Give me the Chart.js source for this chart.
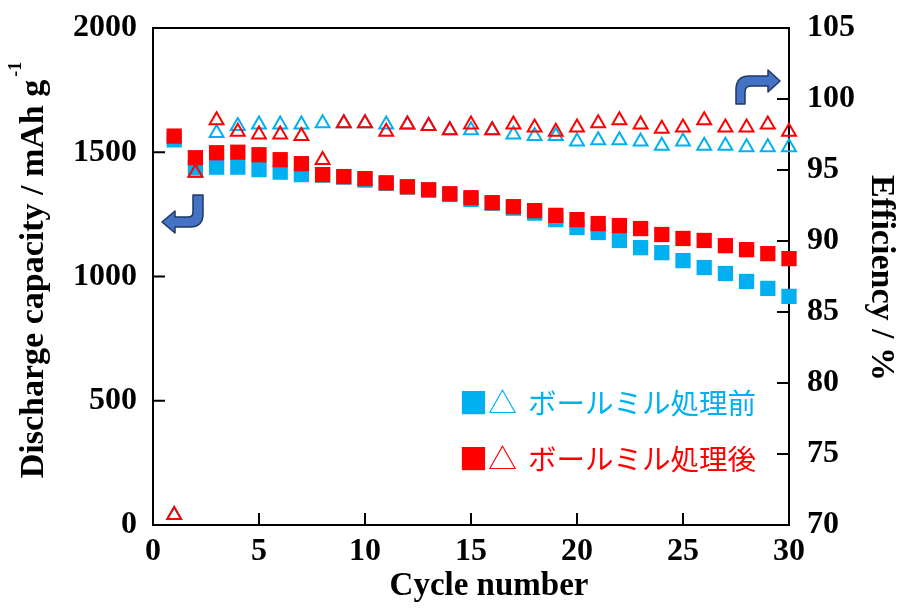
<!DOCTYPE html>
<html lang="ja">
<head>
<meta charset="UTF-8">
<title>Cycle performance</title>
<script src="https://cdn.jsdelivr.net/npm/chart.js@4.4.0/dist/chart.umd.min.js"></script>
<style>
    body { margin: 0; background: #fff; }
    #wrap { width: 897px; height: 612px; }
</style>
</head>
<body>
<div id="wrap"><canvas id="cycleChart" width="897" height="612"></canvas></div>
<script>
// data
const cycles = [1, 2, 3, 4, 5, 6, 7, 8, 9, 10, 11, 12, 13, 14, 15,
                16, 17, 18, 19, 20, 21, 22, 23, 24, 25, 26, 27, 28, 29, 30];
const capBefore = [1550, 1438, 1440, 1440, 1430, 1420, 1410, 1408, 1400, 1388,
                   1375, 1360, 1348, 1330, 1310, 1295, 1275, 1255, 1229, 1197,
                   1177, 1145, 1116, 1096, 1064, 1036, 1012, 980, 952, 920];
const capAfter = [1565, 1478, 1498, 1500, 1490, 1470, 1454, 1410, 1402, 1394,
                  1377, 1361, 1349, 1333, 1317, 1297, 1281, 1265, 1246, 1229,
                  1213, 1205, 1193, 1169, 1153, 1145, 1124, 1108, 1092, 1072];
const effBefore = [70.7, 94.8, 97.6, 98.1, 98.2, 98.2, 98.2, 98.3, 98.3, 98.3,
                   98.2, 98.2, 98.1, 97.8, 97.8, 97.8, 97.5, 97.4, 97.4, 97.0,
                   97.1, 97.1, 97.0, 96.7, 97.0, 96.7, 96.7, 96.6, 96.6, 96.6];
const effAfter = [70.7, 94.8, 98.5, 97.7, 97.5, 97.5, 97.4, 95.7, 98.3, 98.3,
                  97.7, 98.2, 98.1, 97.8, 98.2, 97.8, 98.2, 98.0, 97.7, 98.0,
                  98.3, 98.5, 98.2, 97.9, 98.0, 98.5, 98.0, 98.0, 98.2, 97.7];
const capTicks = [0, 500, 1000, 1500, 2000];
const effTicks = [70, 75, 80, 85, 90, 95, 100, 105];
const cycleTicks = [0, 5, 10, 15, 20, 25, 30];
const legendLabels = ['ボールミル処理前', 'ボールミル処理後'];

const BLUE = '#00B0F0';
const RED = '#FF0000';
const tickFont = { family: '"Liberation Serif", "Times New Roman", serif', size: 32, weight: 'bold' };
const titleFont = 'bold 33px "Liberation Serif", "Times New Roman", serif';
const sideTitleFont = 'bold 34px "Liberation Serif", "Times New Roman", serif';

function pts(ys) {
    return cycles.map((c, i) => ({ x: c, y: ys[i] }));
}

// frame, inward ticks, titles, legend and the two arrows
const decorations = {
    id: 'decorations',
    beforeDatasetsDraw(chart) {
        const { ctx, chartArea: a, scales } = chart;
        ctx.save();
        ctx.strokeStyle = '#000';
        ctx.lineWidth = 2;
        ctx.strokeRect(a.left, a.top, a.right - a.left, a.bottom - a.top);
        ctx.beginPath();
        cycleTicks.forEach(v => {
            const x = scales.x.getPixelForValue(v);
            ctx.moveTo(x, a.bottom); ctx.lineTo(x, a.bottom - 12);
        });
        capTicks.forEach(v => {
            const y = scales.y.getPixelForValue(v);
            ctx.moveTo(a.left, y); ctx.lineTo(a.left + 12, y);
        });
        effTicks.forEach(v => {
            const y = scales.y1.getPixelForValue(v);
            ctx.moveTo(a.right, y); ctx.lineTo(a.right - 12, y);
        });
        ctx.stroke();
        ctx.restore();
    },
    afterDraw(chart) {
        const ctx = chart.ctx;
        ctx.save();
        ctx.fillStyle = '#000';

        // x title
        ctx.font = titleFont;
        ctx.textAlign = 'center';
        ctx.textBaseline = 'alphabetic';
        ctx.fillText('Cycle number', 489, 595);

        // left title with superscript
        ctx.save();
        ctx.translate(43, 270);
        ctx.rotate(-Math.PI / 2);
        ctx.textAlign = 'left';
        const main = 'Discharge capacity / mAh g';
        ctx.font = sideTitleFont;
        const w1 = ctx.measureText(main).width;
        ctx.font = 'bold 18px "Liberation Serif", serif';
        const w2 = ctx.measureText('-1').width + 3;
        const start = -(w1 + w2) / 2;
        ctx.font = sideTitleFont;
        ctx.fillText(main, start, 0);
        ctx.font = 'bold 18px "Liberation Serif", serif';
        ctx.fillText('-1', start + w1 + 3, -22);
        ctx.restore();

        // right title
        ctx.save();
        ctx.translate(872, 278);
        ctx.rotate(Math.PI / 2);
        ctx.font = sideTitleFont;
        ctx.textAlign = 'center';
        ctx.fillText('Efficiency / %', 0, 0);
        ctx.restore();

        // legend
        ctx.textAlign = 'left';
        ctx.textBaseline = 'middle';
        [[BLUE, 403, legendLabels[0]], [RED, 459, legendLabels[1]]].forEach(([c, y, t]) => {
            ctx.fillStyle = c;
            ctx.font = '29px "Noto Sans CJK JP", sans-serif';
            ctx.fillText('■△', 459, y);
            ctx.font = '28.5px "Noto Sans CJK JP", sans-serif';
            ctx.fillText(t, 528, y);
        });

        // arrows
        ctx.fillStyle = '#4472C4';
        ctx.strokeStyle = '#1F3864';
        ctx.lineWidth = 1.5;
        ctx.lineJoin = 'round';
        ctx.beginPath();
        ctx.moveTo(193, 195); ctx.lineTo(203, 195); ctx.lineTo(203, 214);
        ctx.quadraticCurveTo(203, 227, 190, 227);
        ctx.lineTo(175, 227); ctx.lineTo(175, 233); ctx.lineTo(162, 222);
        ctx.lineTo(175, 211); ctx.lineTo(175, 217); ctx.lineTo(188, 217);
        ctx.quadraticCurveTo(193, 217, 193, 212);
        ctx.closePath();
        ctx.fill(); ctx.stroke();

        ctx.beginPath();
        ctx.moveTo(736, 104); ctx.lineTo(736, 90);
        ctx.quadraticCurveTo(736, 76, 749, 76);
        ctx.lineTo(768, 76); ctx.lineTo(768, 70); ctx.lineTo(780, 81);
        ctx.lineTo(768, 92); ctx.lineTo(768, 86); ctx.lineTo(751, 86);
        ctx.quadraticCurveTo(745, 86, 745, 92);
        ctx.lineTo(745, 104);
        ctx.closePath();
        ctx.fill(); ctx.stroke();
        ctx.restore();
    }
};

function noPad(s) {
    s.paddingTop = 0; s.paddingBottom = 0; s.paddingLeft = 0; s.paddingRight = 0;
}

const plainNum = v => String(v);

new Chart(document.getElementById('cycleChart'), {
    type: 'scatter',
    data: {
        datasets: [
            {
                label: '効率 処理後', data: pts(effAfter), yAxisID: 'y1', order: 0,
                pointStyle: 'triangle', pointRadius: 8, borderWidth: 2,
                borderColor: RED, backgroundColor: 'rgba(0,0,0,0)'
            },
            {
                label: '効率 処理前', data: pts(effBefore), yAxisID: 'y1', order: 1,
                pointStyle: 'triangle', pointRadius: 8, borderWidth: 2,
                borderColor: BLUE, backgroundColor: 'rgba(0,0,0,0)'
            },
            {
                label: '容量 処理後', data: pts(capAfter), yAxisID: 'y', order: 2,
                pointStyle: 'rect', pointRadius: 10.8, borderWidth: 0,
                borderColor: RED, backgroundColor: RED
            },
            {
                label: '容量 処理前', data: pts(capBefore), yAxisID: 'y', order: 3,
                pointStyle: 'rect', pointRadius: 10.8, borderWidth: 0,
                borderColor: BLUE, backgroundColor: BLUE
            }
        ]
    },
    options: {
        responsive: false,
        animation: false,
        clip: false,
        layout: { padding: { top: 28, left: 0, right: 0, bottom: 0 } },
        plugins: { legend: { display: false }, tooltip: { enabled: false } },
        scales: {
            x: {
                type: 'linear', min: 0, max: 30,
                grid: { display: false, drawTicks: false },
                border: { display: false },
                ticks: { stepSize: 5, autoSkip: false, maxRotation: 0, padding: 8, color: '#000', font: tickFont, callback: plainNum },
                afterFit(s) { s.height = 87; noPad(s); }
            },
            y: {
                position: 'left', min: 0, max: 2000,
                grid: { display: false, drawTicks: false },
                border: { display: false },
                ticks: { stepSize: 500, padding: 16, color: '#000', font: tickFont, callback: plainNum },
                afterFit(s) { s.width = 153; noPad(s); }
            },
            y1: {
                position: 'right', min: 70, max: 105,
                grid: { display: false, drawTicks: false },
                border: { display: false },
                ticks: { stepSize: 5, padding: 18, color: '#000', font: tickFont, callback: plainNum },
                afterFit(s) { s.width = 108; noPad(s); }
            }
        }
    },
    plugins: [decorations]
});
</script>
</body>
</html>
